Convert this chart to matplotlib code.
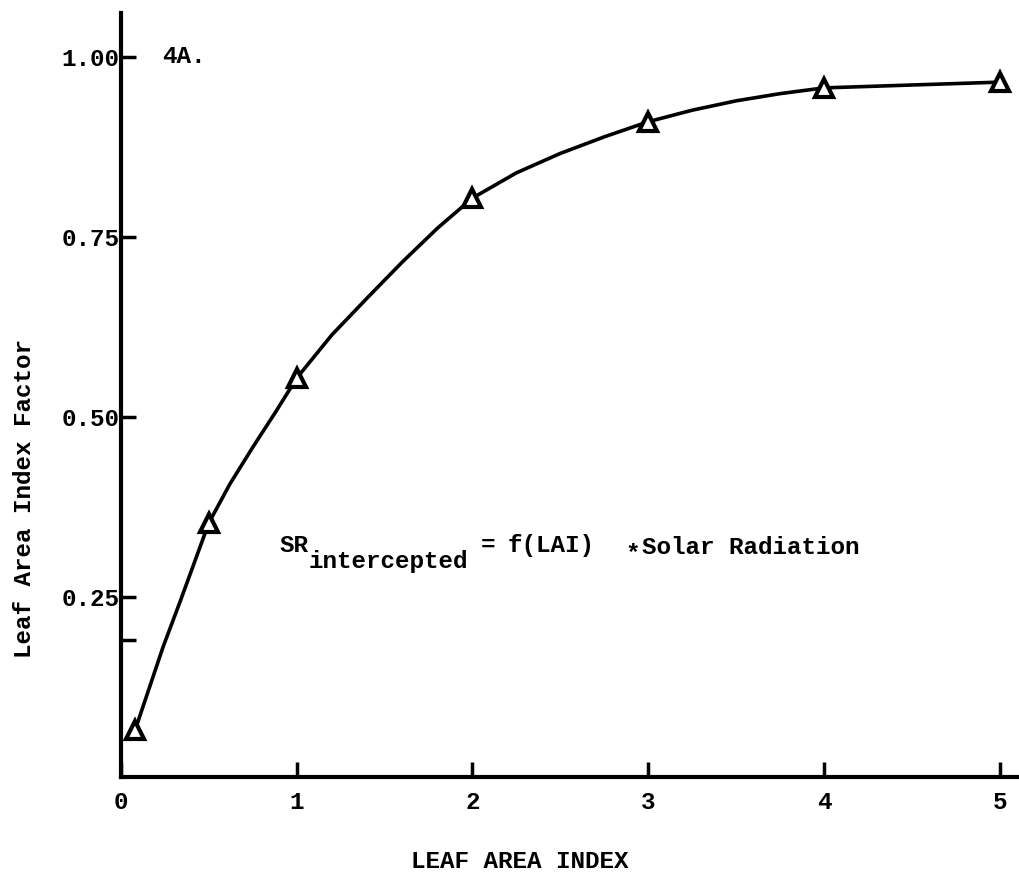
"""
Leaf area index factor vs leaf area index (fig 4A)
"""

from matplotlib import pyplot as plt

# measured points (triangles)
lai = [0.08, 0.5, 1, 2, 3, 4, 5]
lai_factor = [0.065, 0.353, 0.554, 0.804, 0.910, 0.957, 0.965]

# hand drawn curve through the points
curve_x = [0.08, 0.24, 0.34, 0.5, 0.62, 0.75, 0.88, 1, 1.2, 1.4, 1.6, 1.8,
           2, 2.25, 2.5, 2.75, 3, 3.25, 3.5, 3.75, 4, 4.5, 5]
curve_y = [0.065, 0.181, 0.246, 0.353, 0.407, 0.458, 0.507, 0.554, 0.614,
           0.665, 0.715, 0.762, 0.804, 0.839, 0.866, 0.889, 0.910, 0.926,
           0.939, 0.949, 0.957, 0.961, 0.965]

x_ticks = [0, 1, 2, 3, 4, 5]
y_ticks = [0.25, 0.50, 0.75, 1.00]
y_tick_labels = ['0.25', '0.50', '0.75', '1.00']

font = dict(family='Liberation Mono', weight='bold')
fs = 17.5

fig = plt.figure(figsize=(10.19, 8.73), dpi=100)
ax = fig.add_axes([121 / 1019, 96 / 873, 898 / 1019, 764 / 873])

ax.plot(curve_x, curve_y, color='black', lw=2.6, solid_capstyle='round',
        solid_joinstyle='round')
ax.plot(lai, lai_factor, ls='none', marker='^', ms=13, mew=3,
        mfc='white', mec='black')

ax.set_xlim(0, 5.11)
ax.set_ylim(0, 1.061)

for s in ['top', 'right']:
    ax.spines[s].set_visible(False)
for s in ['left', 'bottom']:
    ax.spines[s].set_linewidth(3)

ax.set_xticks(x_ticks)
ax.set_xticklabels([str(t) for t in x_ticks], fontsize=fs, **font)
ax.set_yticks(y_ticks)
ax.set_yticklabels(y_tick_labels, fontsize=fs, **font)
ax.set_yticks([0.19], minor=True)
ax.tick_params(axis='x', direction='in', length=11, width=2.5, pad=10)
ax.tick_params(axis='y', direction='in', length=11, width=2.5, pad=1)
ax.tick_params(axis='y', which='minor', direction='in', length=11, width=2.5)

ax.text(0.233, 1.0, '4A.', fontsize=fs, ha='left', va='center', **font)

'equation text'
ax.text(0.90, 0.322, 'SR', fontsize=fs, ha='left', va='center', **font)
ax.text(1.07, 0.299, 'intercepted', fontsize=fs, ha='left', va='center', **font)
ax.text(2.09, 0.322, '=', fontsize=fs, ha='center', va='center', **font)
ax.text(2.20, 0.322, 'f(LAI)', fontsize=fs, ha='left', va='center', **font)
ax.text(2.91, 0.311, '*', fontsize=fs, ha='center', va='center', **font)
ax.text(2.965, 0.319, 'Solar Radiation', fontsize=fs, ha='left', va='center', **font)

fig.text(520 / 1019, 1 - 861 / 873, 'LEAF AREA INDEX', fontsize=fs,
         ha='center', va='center', **font)
fig.text(25 / 1019, 1 - 499 / 873, 'Leaf Area Index Factor', fontsize=fs,
         ha='center', va='center', rotation=90, **font)

fig.savefig('out.png', dpi=100)
